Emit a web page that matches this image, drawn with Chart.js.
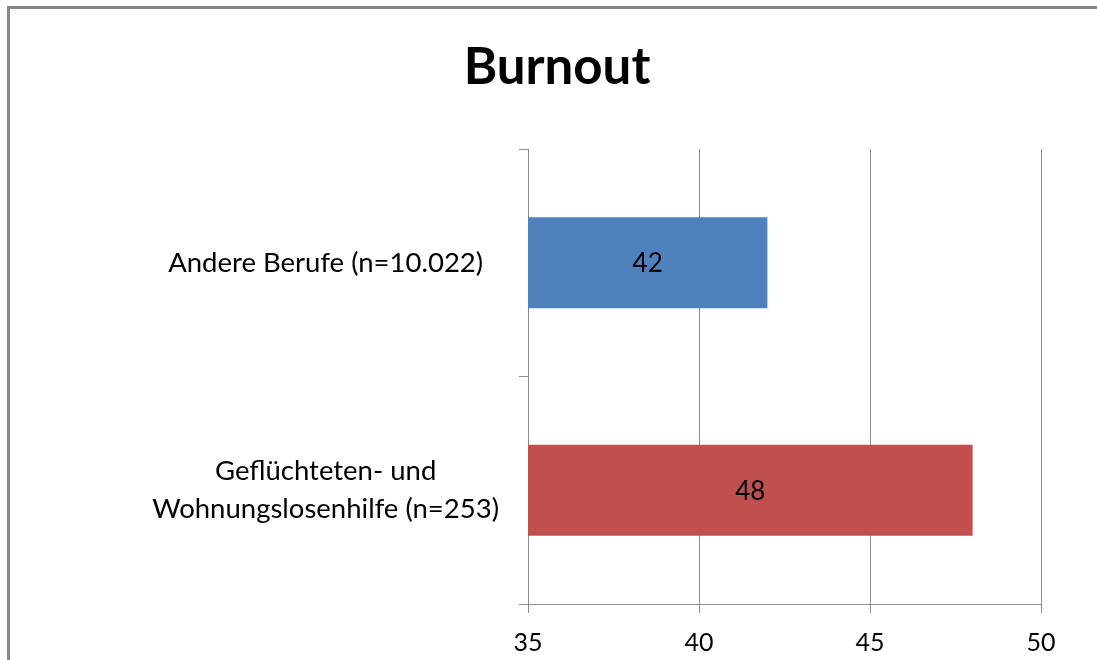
<!DOCTYPE html>
<html>
<head>
<meta charset="utf-8">
<script src="https://cdn.jsdelivr.net/npm/chart.js@4.4.1/dist/chart.umd.min.js"></script>
<style>
  html, body { margin:0; padding:0; background:#fff; }
  #wrap { position:relative; width:1097px; height:660px; }
  #frame { position:absolute; left:7px; top:6px; right:0; bottom:0;
           border-left:3px solid #878787; border-top:3px solid #878787; }
  canvas { position:absolute; left:0; top:0; }
</style>
</head>
<body>
<div id="wrap">
  <div id="frame"></div>
  <canvas id="graf" width="1097" height="660"></canvas>
</div>
<script>
const titel = "Burnout";
const kategorien = [
  ["Andere Berufe (n=10.022)"],
  ["Geflüchteten- und", "Wohnungslosenhilfe (n=253)"]
];
const werte = [42, 48];
const farben = ["#4F81BD", "#C0504D"];
const achseMin = 35;
const achseMax = 50;
const achseSchritt = 5;

const grau = "#8e8e8e";
const schrift = "Lato, 'Open Sans', sans-serif";

// Titel und Werte in den Balken
const beschriftung = {
  id: "beschriftung",
  afterDatasetsDraw(chart) {
    const ctx = chart.ctx;
    const links = chart.scales.x.getPixelForValue(achseMin);
    ctx.save();
    ctx.fillStyle = "#000";
    ctx.textAlign = "center";
    ctx.textBaseline = "middle";
    ctx.font = "26px " + schrift;
    chart.getDatasetMeta(0).data.forEach((bar, i) => {
      ctx.fillText(String(werte[i]), (links + bar.x) / 2, bar.y + 1);
    });
    ctx.font = "bold 51px " + schrift;
    ctx.fillText(titel, 557, 68);
    ctx.restore();
  }
};

new Chart(document.getElementById("graf"), {
  type: "bar",
  data: {
    labels: kategorien,
    datasets: [{
      data: werte,
      backgroundColor: farben,
      categoryPercentage: 0.5,
      barPercentage: 0.8
    }]
  },
  options: {
    indexAxis: "y",
    responsive: false,
    animation: false,
    layout: { padding: { top: 149, left: 74, right: 56, bottom: 0 } },
    plugins: {
      legend: { display: false },
      tooltip: { enabled: false },
      title: { display: false }
    },
    scales: {
      x: {
        min: achseMin,
        max: achseMax,
        ticks: {
          stepSize: achseSchritt,
          color: "#000",
          padding: 15,
          font: { family: schrift, size: 25 }
        },
        grid: { color: grau, tickLength: 9, tickColor: grau },
        border: { color: grau },
        afterFit(s) { s.height = 56; }
      },
      y: {
        offset: true,
        ticks: {
          color: "#000",
          padding: 20,
          crossAlign: "center",
          font: { family: schrift, size: 27.5, lineHeight: 1.38 }
        },
        grid: { drawOnChartArea: false, offset: true, tickLength: 9, color: grau },
        border: { color: grau },
        afterFit(s) { s.width = 528 - 74; }
      }
    }
  },
  plugins: [beschriftung]
});
</script>
</body>
</html>
